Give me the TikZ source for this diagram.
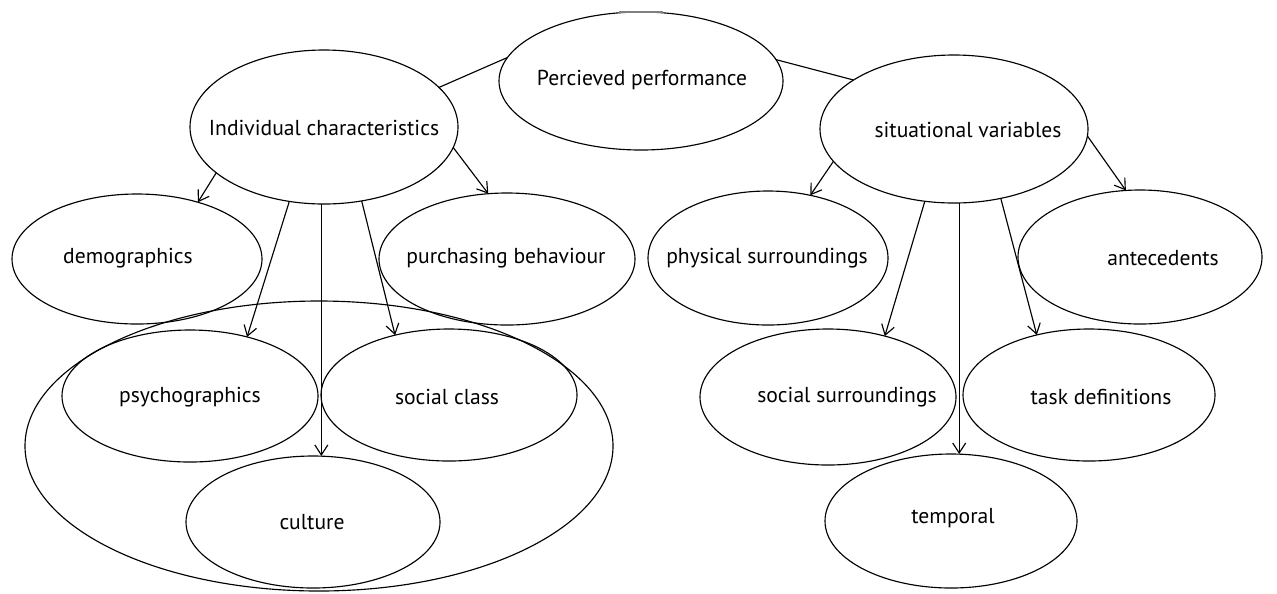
\documentclass[tikz,border=0pt]{standalone}
\usepackage{fontspec}
\setmainfont{PT Sans}
\usetikzlibrary{arrows.meta,shapes.geometric}
\newcommand\pxl[1]{#1*0.02cm}
\tikzset{
  ell/.style={draw, ellipse, inner sep=0pt, outer sep=0pt, line width=0.65pt},
  txt/.style={inner sep=0pt, font=\fontsize{12.3}{14}\selectfont},
  link/.style={line width=0.65pt},
  arr/.style={line width=0.65pt, -{Straight Barb[length=2mm,width=2.6mm]}},
}
\begin{document}
\begin{tikzpicture}[x=0.02cm, y=-0.02cm]
\useasboundingbox (0,0) rectangle (1277,593);
% ellipses
\node[ell, minimum width=\pxl{588}, minimum height=\pxl{290}] (big) at (319,446) {};
\node[ell, minimum width=\pxl{284}, minimum height=\pxl{138}] (pp) at (641,81) {};
\node[ell, minimum width=\pxl{268}, minimum height=\pxl{154}] (ic) at (324,127) {};
\node[ell, minimum width=\pxl{268}, minimum height=\pxl{148}] (sv) at (954,129) {};
\node[ell, minimum width=\pxl{250}, minimum height=\pxl{130}] (demo) at (137,259) {};
\node[ell, minimum width=\pxl{256}, minimum height=\pxl{132}] (pb) at (507,259) {};
\node[ell, minimum width=\pxl{240}, minimum height=\pxl{134}] (phys) at (768,258) {};
\node[ell, minimum width=\pxl{244}, minimum height=\pxl{134}] (ante) at (1140,257) {};
\node[ell, minimum width=\pxl{256}, minimum height=\pxl{132}] (psy) at (190,396) {};
\node[ell, minimum width=\pxl{256}, minimum height=\pxl{132}] (soc) at (449,395) {};
\node[ell, minimum width=\pxl{254}, minimum height=\pxl{132}] (cul) at (313,522) {};
\node[ell, minimum width=\pxl{256}, minimum height=\pxl{136}] (ss) at (828,397) {};
\node[ell, minimum width=\pxl{252}, minimum height=\pxl{132}] (task) at (1089,395) {};
\node[ell, minimum width=\pxl{252}, minimum height=\pxl{134}] (temp) at (951,521) {};
% texts
\node[txt] (pp-t) at (642,80) {Percieved performance};
\node[txt] (ic-t) at (324,128) {Individual characteristics};
\node[txt] (sv-t) at (968,130) {situational variables};
\node[txt] (demo-t) at (128,258) {demographics};
\node[txt] (pb-t) at (506,258) {purchasing behaviour};
\node[txt] (phys-t) at (767,258) {physical surroundings};
\node[txt] (ante-t) at (1163,258) {antecedents};
\node[txt] (psy-t) at (190,397) {psychographics};
\node[txt] (soc-t) at (447,397) {social class};
\node[txt] (cul-t) at (312,522) {culture};
\node[txt] (ss-t) at (847,397) {social surroundings};
\node[txt] (task-t) at (1101,397) {task definitions};
\node[txt] (temp-t) at (953,518) {temporal};
% top tick
\draw[gray, line width=1.6pt] ([xshift=\pxl{-22}]pp.north) -- ([xshift=\pxl{22}]pp.north);
% links
\draw[link] (pp.170) -- (ic.19);
\draw[link] (pp.9) -- (sv.154);
% arrows from individual characteristics
\draw[arr] (ic.203) -- (demo.43);
\draw[arr] (ic.245) -- (psy.46);
\draw[arr] (ic.268) -- (ic.268 |- cul.north);
\draw[arr] (ic.297) -- (soc.132);
\draw[arr] (ic.351) -- (pb.106);
% arrows from situational variables
\draw[arr] (sv.195) -- (phys.56);
\draw[arr] (sv.248) -- (ss.47);
\draw[arr] (sv.274) -- (sv.274 |- temp.north);
\draw[arr] (sv.304) -- (task.131);
\draw[arr] (sv.357) -- (ante.102);
\end{tikzpicture}
\end{document}
